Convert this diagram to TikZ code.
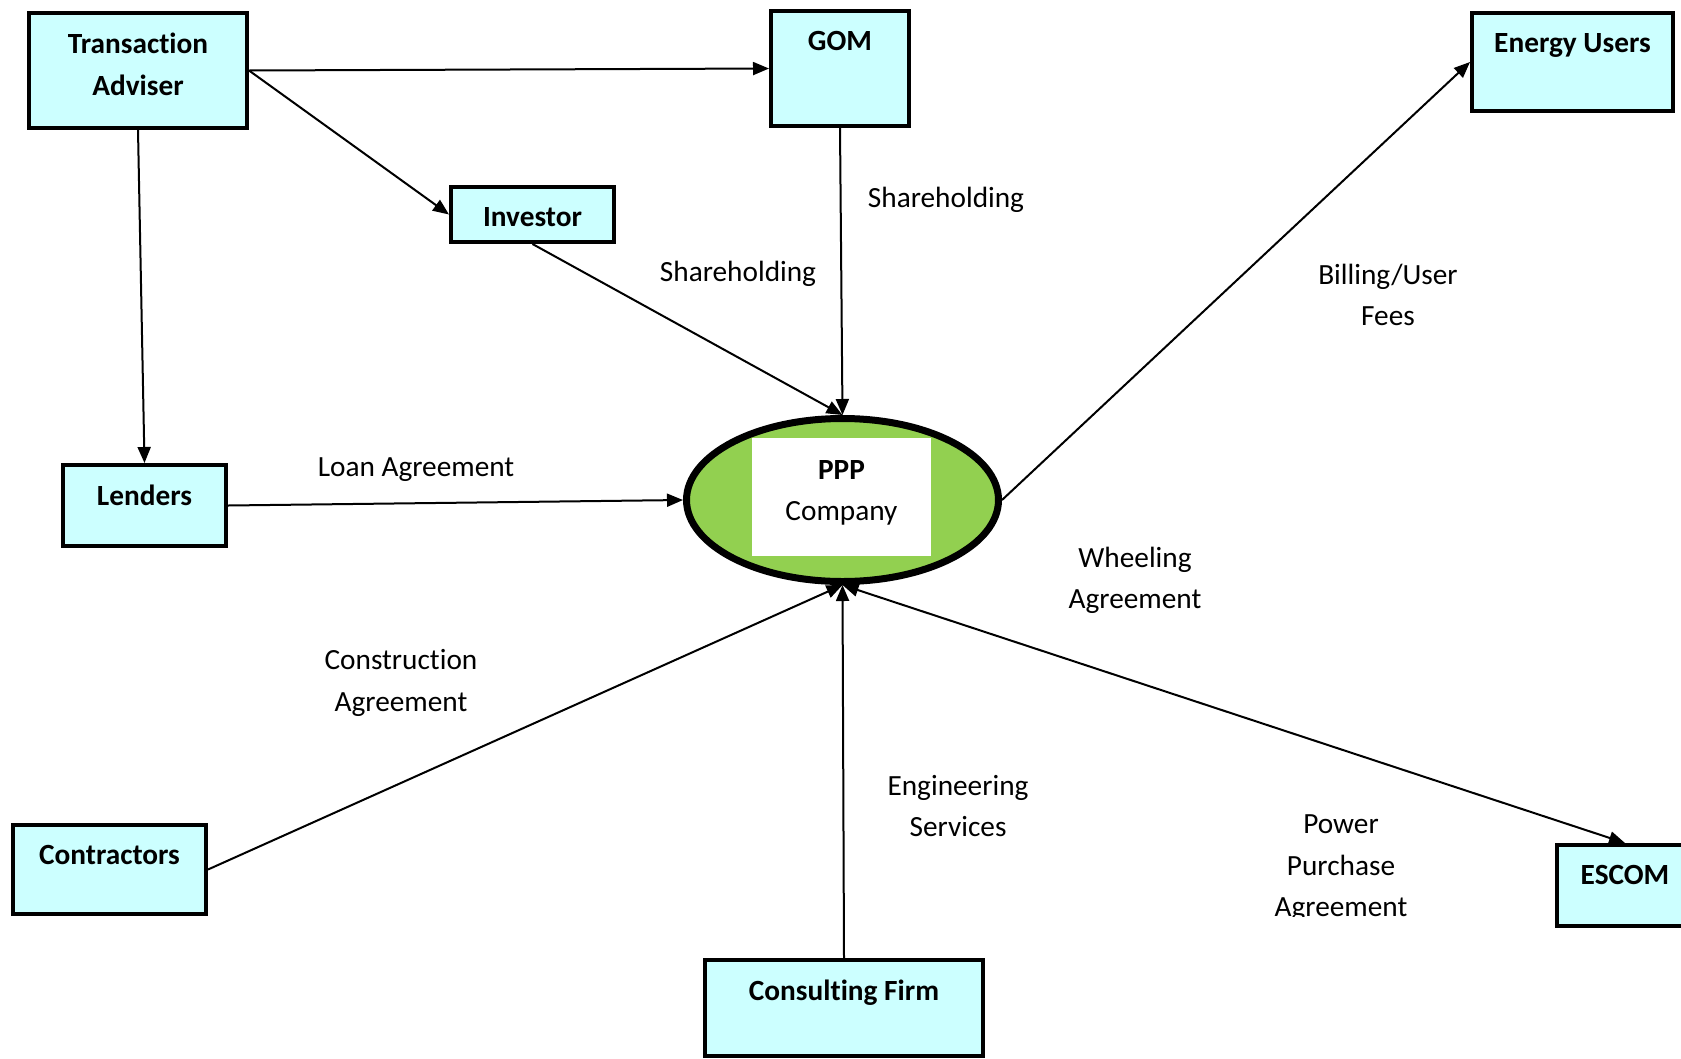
\documentclass[tikz,border=0pt]{standalone}
\usepackage{fontspec}
\setmainfont{Carlito}[Ligatures=NoCommon]
\usetikzlibrary{shapes.geometric,arrows.meta}
\definecolor{boxcyan}{HTML}{CCFFFF}
\definecolor{pppgreen}{HTML}{92D050}
\newcommand\diafont{\fontsize{29.3}{41.5}\selectfont}
\begin{document}
\begin{tikzpicture}[x=1pt, y=-1pt,
    party/.style={draw, line width=4pt, fill=boxcyan, inner sep=0pt, anchor=north west},
    boxtext/.style={anchor=north, yshift=-22pt, inner sep=0pt, align=center, font=\diafont\bfseries},
    note/.style={align=center, inner sep=0pt, font=\diafont},
    link/.style={line width=2pt, >={Triangle[length=16pt, width=13pt]}, ->}]
    \useasboundingbox (0,0) rectangle (1681,1058) ;
    \clip (0,0) rectangle (1681,1058) ;
    \node[party, minimum width=218pt, minimum height=115pt,
      label={[boxtext]north:Transaction\\Adviser}] (ta) at (27,11) {} ;
    \node[party, minimum width=138pt, minimum height=115pt,
      label={[boxtext]north:GOM}] (gom) at (769,9) {} ;
    \node[party, minimum width=201pt, minimum height=98pt,
      label={[boxtext]north:Energy Users}] (users) at (1470,11) {} ;
    \node[party, minimum width=163pt, minimum height=55pt,
      label={[boxtext]north:Investor}] (inv) at (449,185) {} ;
    \node[party, minimum width=163pt, minimum height=81pt,
      label={[boxtext]north:Lenders}] (lend) at (61,463) {} ;
    \node[party, minimum width=193pt, minimum height=89pt,
      label={[boxtext]north:Contractors}] (contr) at (11,823) {} ;
    \node[party, minimum width=278pt, minimum height=96pt,
      label={[boxtext]north:Consulting Firm}] (cons) at (703,958) {} ;
    \node[party, minimum width=136pt, minimum height=81pt,
      label={[boxtext]north:ESCOM}] (escom) at (1555,843) {} ;
    \node[ellipse, draw, line width=7pt, fill=pppgreen, inner sep=0pt,
      minimum width=312pt, minimum height=163pt] (ppp) at (842.5,500) {} ;
    \node[fill=white, inner sep=0pt, minimum width=179pt, minimum height=118pt,
      label={[boxtext]north:PPP\\{\mdseries Company}}] (pppbox) at (841.5,497) {} ;
    \draw[link] (ta.east) -- (gom.west) ;
    \draw[link] (ta.east) -- (inv.west) ;
    \draw[link] (ta.south) -- (lend.north) ;
    \draw[link] (inv.south) -- (ppp.north) ;
    \draw[link] (gom.south) -- (ppp.north) ;
    \draw[link] (ppp.east) -- (users.west) ;
    \draw[link] (lend.east) -- (ppp.west) ;
    \draw[link] (contr.east) -- (ppp.south) ;
    \draw[link] (cons.north) -- (ppp.south) ;
    \draw[link, <->] (ppp.south) -- (escom.north) ;
    \node[note] (share1) at (946,200) {Shareholding} ;
    \node[note] (share2) at (738,274) {Shareholding} ;
    \node[note] (bill) at (1388,295) {Billing/User\\Fees} ;
    \node[note] (loan) at (416,470) {Loan Agreement} ;
    \node[note] (wheel) at (1135,580.5) {Wheeling\\Agreement} ;
    \node[note] (constr) at (401,683) {Construction\\Agreement} ;
    \node[note] (eng) at (958,806) {Engineering\\Services} ;
    \begin{scope}
      \clip (1150,780) rectangle (1500,916) ;
      \node[note] (ppa) at (1341,868.5) {Power\\Purchase\\Agreement} ;
    \end{scope}
\end{tikzpicture}
\end{document}
